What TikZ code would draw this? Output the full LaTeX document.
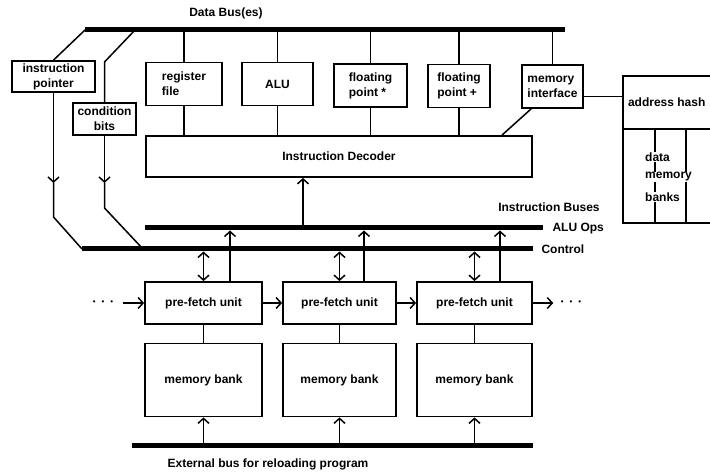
\documentclass[tikz,border=0pt]{standalone}
\usepackage{fontspec}
\setmainfont{Liberation Sans}
\usetikzlibrary{arrows.meta}

\begin{document}
\begin{tikzpicture}[x=1pt, y=-1pt, font=\bfseries\fontsize{12}{15}\selectfont,
  blk/.style={draw, line width=1.8pt, minimum width=#1, minimum height=43pt,
              align=center, inner sep=2pt},
  blk/.default=100pt,
  bus/.style={line width=5pt},
  wire/.style={line width=1.5pt},
  arr/.style={wire, -{Straight Barb[length=5pt,width=11pt]}},
  dbl/.style={wire, {Straight Barb[length=5pt,width=11pt]}-{Straight Barb[length=5pt,width=11pt]}},
  dots/.style={font=\fontsize{8}{8}\selectfont}
]
  \useasboundingbox (0,0) rectangle (710,473);

  \coordinate (db-l)  at (85,30);
  \coordinate (db-r)  at (565,30);
  \coordinate (db-cb) at (135,30);
  \coordinate (ao-l)  at (145,228);
  \coordinate (ao-r)  at (543,228);
  \coordinate (ctl-l) at (82,249);
  \coordinate (ctl-r) at (533,249);
  \coordinate (ctl-cb) at (143,249);
  \coordinate (ext-l) at (132,445);
  \coordinate (ext-r) at (533,445);
  \draw[bus] (db-l) -- (db-r);
  \draw[bus] (ao-l) -- (ao-r);
  \draw[bus] (ctl-l) -- (ctl-r);
  \draw[bus] (ext-l) -- (ext-r);
  \node (db-lbl)  at (226,13)  {Data Bus(es)};
  \node (ib-lbl)  at (549,207) {Instruction Buses};
  \node[anchor=west] (ao-lbl)  at (549,229) {ALU Ops};
  \node[anchor=west] (ctl-lbl) at (538,249) {Control};
  \node (ext-lbl) at (268,464) {External bus for reloading program};

  \node[blk=83pt, minimum height=31pt] (ip) at (53.5,76.5) {instruction\\pointer};
  \node[blk=63pt, minimum height=32pt] (cb) at (104.5,119) {condition\\bits};
  \draw[wire] (db-l) -- (ip.north);
  \draw[arr] (ip.south) -- (ip.south |- 0,183);
  \draw[wire] (ip.south |- 0,183) -- (ip.south |- 0,217) -- (ctl-l);
  \draw[wire] (db-cb) -- (cb.north |- 0,62) -- (cb.north);
  \draw[arr] (cb.south) -- (cb.south |- 0,183);
  \draw[wire] (cb.south |- 0,183) -- (cb.south |- 0,208) -- (ctl-cb);

  \node[blk=76pt, align=left] (reg) at (184,84)    {register\\file};
  \node[blk=71pt]             (alu) at (277.5,84)  {ALU};
  \node[blk=73pt, align=left] (fpm) at (370.5,85.5){floating\\point *};
  \node[blk=62pt, align=left] (fpa) at (459,86)    {floating\\point +};
  \node[blk=61pt, align=left] (mem) at (552.5,86.5){memory\\interface};
  \node[blk=386pt, minimum height=41pt] (dec) at (339,156.5) {Instruction Decoder};
  \foreach \n in {reg,alu,fpm,fpa,mem}
    \draw[wire] (\n.north) -- (\n.north |- db-l);
  \foreach \n in {reg,alu,fpm,fpa}
    \draw[wire] (\n.south) -- (\n.south |- dec.north);
  \draw[wire] ([xshift=10pt]mem.south west) -- (dec.north -| 502,0);
  \coordinate (ao-dec) at (303,228);
  \draw[arr] (ao-dec) -- (ao-dec |- dec.south);

  \node[minimum width=87pt, minimum height=53pt, anchor=north west] (hash) at (623,76) {address hash};
  \node[minimum width=87pt, minimum height=93pt, anchor=north west] (banks) at (hash.south west) {};
  \draw[line width=1.8pt] (hash.north east) -- (hash.north west) -- (banks.south west) -- (banks.south east);
  \draw[line width=1.8pt] (hash.south west) -- (hash.south east);
  \draw[wire] (banks.north -| 655,0) -- (banks.south -| 655,0);
  \draw[wire] (banks.north -| 686,0) -- (banks.south -| 686,0);
  \node[fill=white, inner sep=1pt, anchor=west] (bk-data) at (644,157) {data};
  \node[fill=white, inner sep=1pt, anchor=west] (bk-mem)  at (644,177) {memory};
  \node[fill=white, inner sep=1pt, anchor=west] (bk-bank) at (644,197) {banks};
  \draw[wire] ([yshift=-10pt]mem.east) -- ([yshift=-10pt]mem.east -| hash.west);

  \node[blk=117pt, minimum height=42pt] (pf1) at (203.5,303) {pre-fetch unit};
  \node[blk=113pt, minimum height=42pt] (pf2) at (339.5,303) {pre-fetch unit};
  \node[blk=115pt, minimum height=42pt] (pf3) at (474.5,303) {pre-fetch unit};
  \node[blk=117pt, minimum height=73pt] (mb1) at (203.5,380) {memory bank};
  \node[blk=113pt, minimum height=73pt] (mb2) at (339.5,380) {memory bank};
  \node[blk=115pt, minimum height=73pt] (mb3) at (474.5,380) {memory bank};
  \node[dots] (dots-l) at (103,303) {\textbullet\hspace{6pt}\textbullet\hspace{6pt}\textbullet};
  \node[dots] (dots-r) at (571,303) {\textbullet\hspace{6pt}\textbullet\hspace{6pt}\textbullet};
  \foreach \i/\x in {1/230,2/364,3/500} {
    \coordinate (ao\i) at (\x,228);
    \draw[wire] (pf\i) -- (mb\i);
    \draw[dbl, shorten <=2.5pt] (pf\i.north |- ctl-l) -- (pf\i.north);
    \draw[arr, shorten >=2.5pt] (ao\i |- pf\i.north) -- (ao\i);
    \draw[arr] (mb\i.south |- ext-l) -- (mb\i.south);
  }
  \draw[arr, shorten <=6pt] (dots-l) -- (pf1);
  \draw[arr] (pf1) -- (pf2);
  \draw[arr] (pf2) -- (pf3);
  \draw[arr, shorten >=4pt] (pf3) -- (dots-r);
\end{tikzpicture}
\end{document}
